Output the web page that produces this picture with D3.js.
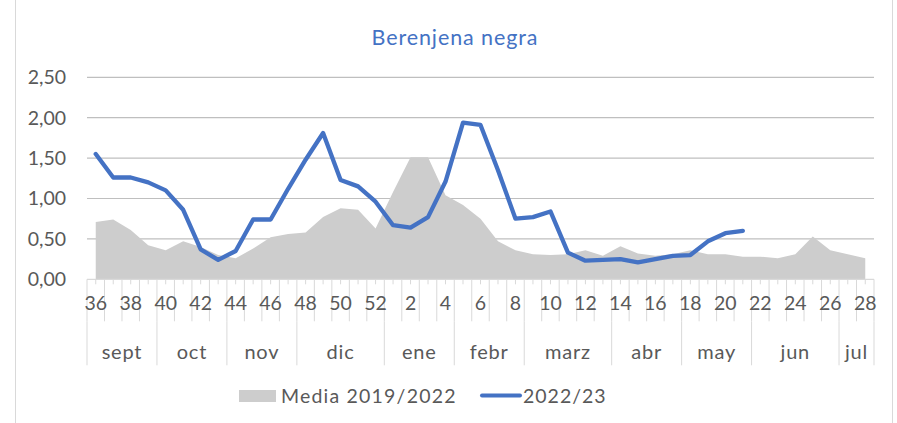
<!DOCTYPE html>
<html>
<head>
<meta charset="utf-8">
<script src="https://cdn.jsdelivr.net/npm/d3@7"></script>
<style>
  body { margin: 0; background: #fff; }
  svg text { font-family: Lato, "Open Sans", sans-serif; fill: #595959; }
</style>
</head>
<body>
<div id="chart"></div>
<script>
// weeks of the campaign, sept 2022 -> jul 2023
var weeks = [36,37,38,39,40,41,42,43,44,45,46,47,48,49,50,51,52,
             1,2,3,4,5,6,7,8,9,10,11,12,13,14,15,16,17,18,19,20,21,22,23,24,25,26,27,28];

var months = ["sept","oct","nov","dic","ene","febr","marz","abr","may","jun","jul"];
var monthWeeks = [4,4,4,5,4,4,5,4,4,5,2];

// Media 2019/2022 (area)
var media = [0.71,0.74,0.61,0.42,0.36,0.47,0.40,0.30,0.26,0.38,0.52,0.56,0.58,0.77,0.88,0.86,0.63,
             1.08,1.51,1.51,1.04,0.92,0.75,0.47,0.36,0.31,0.30,0.31,0.36,0.29,0.41,0.32,0.29,0.31,0.36,
             0.31,0.31,0.28,0.28,0.26,0.31,0.53,0.36,0.31,0.26];

// 2022/23 (line), up to week 21
var campaign = [1.55,1.26,1.26,1.20,1.10,0.86,0.37,0.24,0.35,0.74,0.74,1.12,1.48,1.81,1.23,1.15,0.96,
                0.67,0.64,0.77,1.21,1.94,1.91,1.35,0.75,0.77,0.84,0.33,0.23,0.24,0.25,0.21,0.25,0.29,0.30,
                0.47,0.57,0.60];

var yTicks = [0, 0.5, 1, 1.5, 2, 2.5];

var width = 897, height = 423;
var margin = {left: 87, right: 23, top: 77.3, bottom: 143.7};

var svg = d3.select("#chart").append("svg")
    .attr("width", width)
    .attr("height", height);

// chart frame sides
svg.append("line").attr("x1", 15.5).attr("x2", 15.5).attr("y1", 0).attr("y2", height)
    .attr("stroke", "#d9d9d9");
svg.append("line").attr("x1", 892.5).attr("x2", 892.5).attr("y1", 0).attr("y2", height)
    .attr("stroke", "#d9d9d9");

var x = d3.scaleBand()
    .domain(d3.range(weeks.length))
    .range([margin.left, width - margin.right])
    .padding(0);
var bw = x.bandwidth();
function cx(i) { return x(i) + bw / 2; }

var y = d3.scaleLinear()
    .domain([0, 2.5])
    .range([height - margin.bottom, margin.top]);

var fmt = function (d) { return d3.format(".2f")(d).replace(".", ","); };

// gridlines
svg.append("g")
    .selectAll("line")
    .data(yTicks.slice(1))
    .enter().append("line")
    .attr("x1", margin.left)
    .attr("x2", width - margin.right)
    .attr("y1", function (d) { return y(d); })
    .attr("y2", function (d) { return y(d); })
    .attr("stroke", "#bfbfbf")
    .attr("stroke-width", 1.2);

// y labels
svg.append("g")
    .selectAll("text")
    .data(yTicks)
    .enter().append("text")
    .attr("x", 66)
    .attr("y", function (d) { return y(d); })
    .attr("dy", "0.35em")
    .attr("text-anchor", "end")
    .style("font-size", "19.5px")
    .text(fmt);

// area
var area = d3.area()
    .x(function (d, i) { return cx(i); })
    .y0(y(0))
    .y1(function (d) { return y(d); });

svg.append("path")
    .datum(media)
    .attr("d", area)
    .attr("fill", "#cdcdcd");

// x axis line and ticks
var axisY = y(0);
svg.append("line")
    .attr("x1", margin.left).attr("x2", width - margin.right)
    .attr("y1", axisY).attr("y2", axisY)
    .attr("stroke", "#d9d9d9").attr("stroke-width", 1.2);

var bounds = d3.range(weeks.length + 1).map(function (i) {
    return i < weeks.length ? x(i) : x(weeks.length - 1) + bw;
});

svg.append("g")
    .selectAll("line")
    .data(bounds)
    .enter().append("line")
    .attr("x1", function (d) { return d; })
    .attr("x2", function (d) { return d; })
    .attr("y1", axisY)
    .attr("y2", axisY + 42)
    .attr("stroke", "#d9d9d9");

svg.append("g")
    .selectAll("line")
    .data(d3.range(weeks.length))
    .enter().append("line")
    .attr("x1", cx).attr("x2", cx)
    .attr("y1", axisY)
    .attr("y2", axisY + 5)
    .attr("stroke", "#d9d9d9");

// week labels, every other week
svg.append("g")
    .selectAll("text")
    .data(d3.range(0, weeks.length, 2))
    .enter().append("text")
    .attr("x", cx)
    .attr("y", axisY + 31)
    .attr("text-anchor", "middle")
    .style("font-size", "19.5px")
    .text(function (i) { return weeks[i]; });

// month separators and labels
var start = 0;
var monthData = months.map(function (m, k) {
    var s = start;
    start += monthWeeks[k];
    return {name: m, s: s, e: start};
});

svg.append("g")
    .selectAll("line")
    .data(monthData.map(function (d) { return d.s; }).concat([weeks.length]))
    .enter().append("line")
    .attr("x1", function (i) { return bounds[i]; })
    .attr("x2", function (i) { return bounds[i]; })
    .attr("y1", axisY + 42)
    .attr("y2", axisY + 86)
    .attr("stroke", "#d9d9d9");

svg.append("g")
    .selectAll("text")
    .data(monthData)
    .enter().append("text")
    .attr("x", function (d) { return (bounds[d.s] + bounds[d.e]) / 2; })
    .attr("y", axisY + 80)
    .attr("text-anchor", "middle")
    .style("font-size", "20px")
    .style("letter-spacing", "0.8px")
    .text(function (d) { return d.name; });

// line 2022/23
var line = d3.line()
    .x(function (d, i) { return cx(i); })
    .y(function (d) { return y(d); });

svg.append("path")
    .datum(campaign)
    .attr("d", line)
    .attr("fill", "none")
    .attr("stroke", "#4472c4")
    .attr("stroke-width", 4.3)
    .attr("stroke-linejoin", "round")
    .attr("stroke-linecap", "round");

// title
svg.append("text")
    .attr("x", 455)
    .attr("y", 45)
    .attr("text-anchor", "middle")
    .style("font-size", "21.5px")
    .style("letter-spacing", "0.9px")
    .style("fill", "#4472c4")
    .text("Berenjena negra");

// legend
var legend = svg.append("g");
legend.append("rect")
    .attr("x", 239).attr("y", 390)
    .attr("width", 37).attr("height", 12)
    .attr("fill", "#cdcdcd");
legend.append("text")
    .attr("x", 281).attr("y", 403)
    .style("font-size", "19.5px")
    .style("letter-spacing", "1.2px")
    .text("Media 2019/2022");
legend.append("line")
    .attr("x1", 482).attr("x2", 520)
    .attr("y1", 395.5).attr("y2", 395.5)
    .attr("stroke", "#4472c4")
    .attr("stroke-width", 4)
    .attr("stroke-linecap", "round");
legend.append("text")
    .attr("x", 523).attr("y", 403)
    .style("font-size", "19.5px")
    .style("letter-spacing", "1px")
    .text("2022/23");
</script>
</body>
</html>
